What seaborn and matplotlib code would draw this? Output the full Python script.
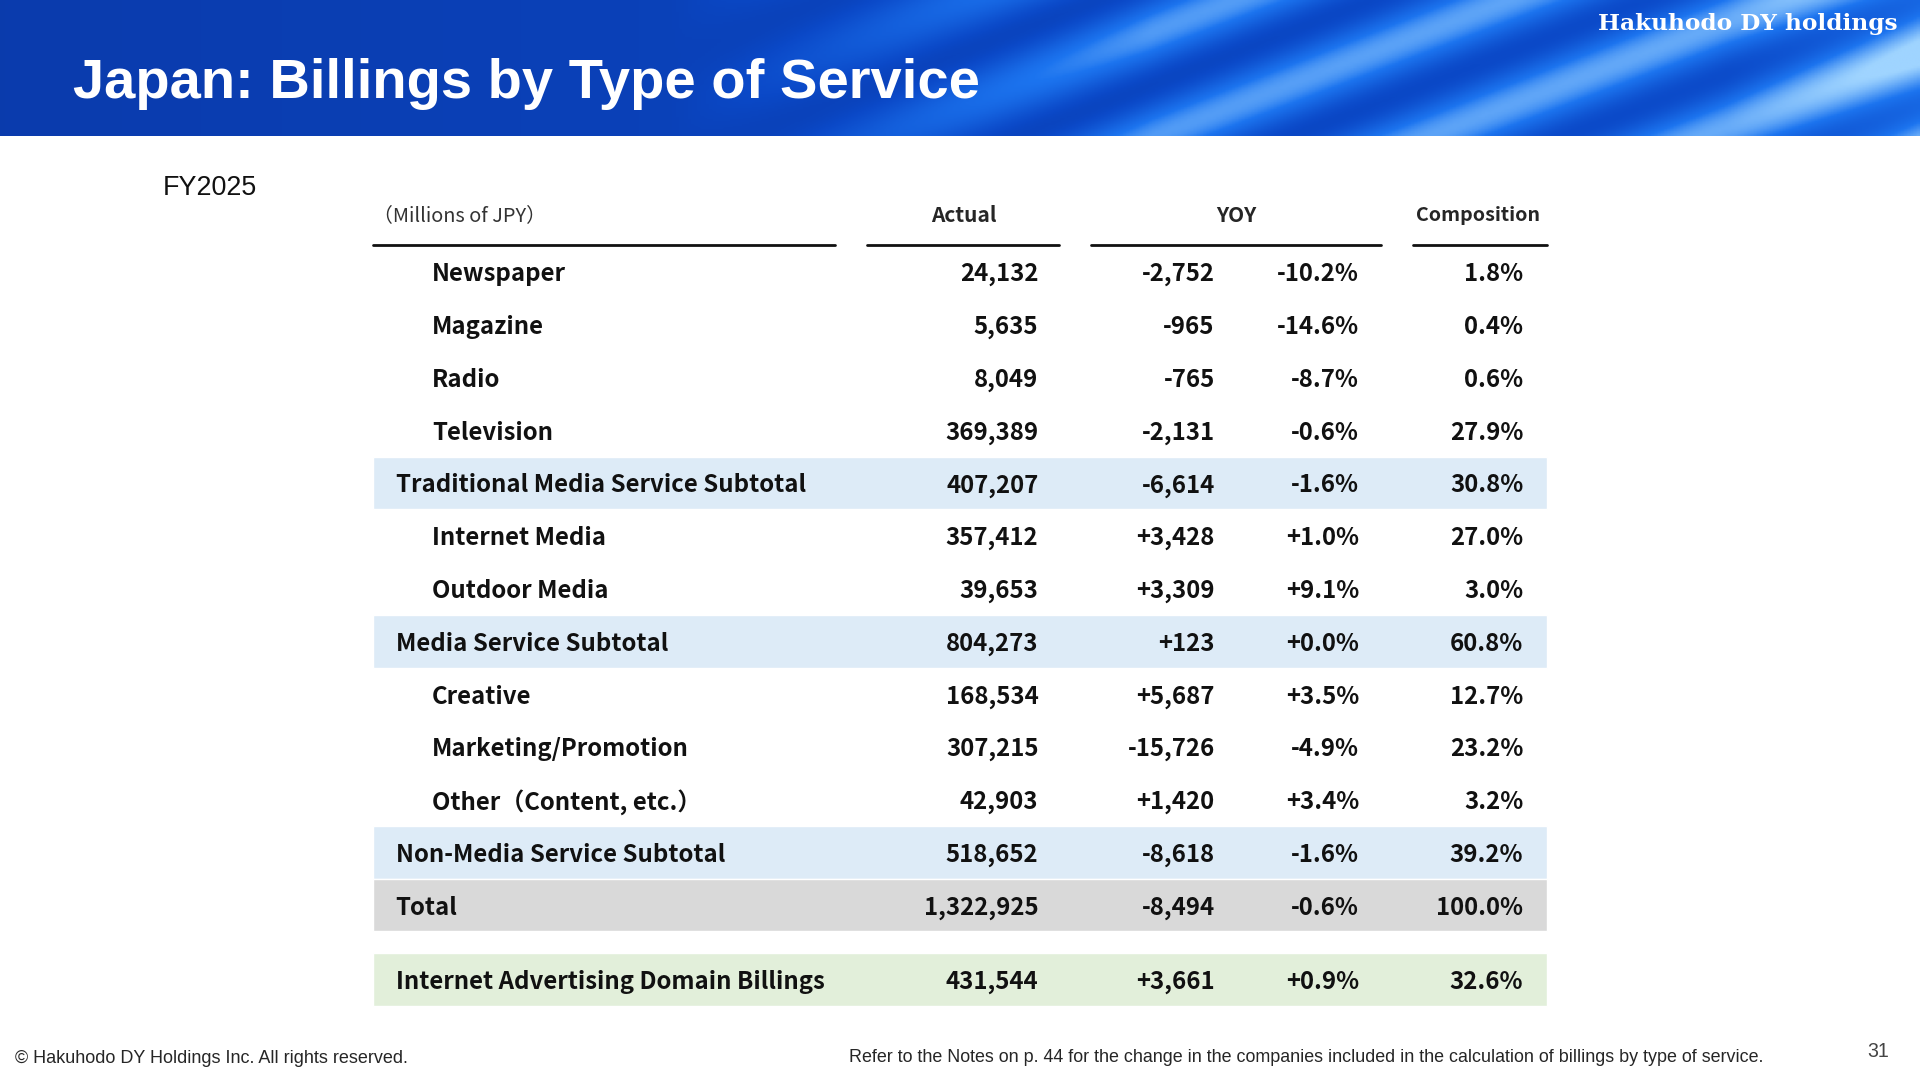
import numpy as np
import matplotlib
matplotlib.use("Agg")
import matplotlib.pyplot as plt
import seaborn as sns
from matplotlib.colors import LinearSegmentedColormap

sns.set_theme(style="white")
plt.rcParams['font.family'] = ['Noto Sans CJK JP', 'DejaVu Sans']

labels = ["Newspaper", "Magazine", "Radio", "Television",
          "Traditional Media Service Subtotal", "Internet Media", "Outdoor Media",
          "Media Service Subtotal", "Creative", "Marketing/Promotion",
          "Other（Content, etc.）", "Non-Media Service Subtotal", "Total",
          "Internet Advertising Domain Billings"]
kinds = ["item", "item", "item", "item", "sub", "item", "item", "sub",
         "item", "item", "item", "sub", "total", "ia"]
actual = ["24,132", "5,635", "8,049", "369,389", "407,207", "357,412", "39,653",
          "804,273", "168,534", "307,215", "42,903", "518,652", "1,322,925", "431,544"]
yoy_abs = ["-2,752", "-965", "-765", "-2,131", "-6,614", "+3,428", "+3,309",
           "+123", "+5,687", "-15,726", "+1,420", "-8,618", "-8,494", "+3,661"]
yoy_pct = ["-10.2%", "-14.6%", "-8.7%", "-0.6%", "-1.6%", "+1.0%", "+9.1%",
           "+0.0%", "+3.5%", "-4.9%", "+3.4%", "-1.6%", "-0.6%", "+0.9%"]
comp = ["1.8%", "0.4%", "0.6%", "27.9%", "30.8%", "27.0%", "3.0%", "60.8%",
        "12.7%", "23.2%", "3.2%", "39.2%", "100.0%", "32.6%"]

W, H = 1568, 882
fig = plt.figure(figsize=(19.2, 10.8), dpi=100)
ax = fig.add_axes([0, 0, 1, 1])
ax.set_xlim(0, W); ax.set_ylim(H, 0); ax.axis("off")
S = 1920 / W * 0.72  # ref px -> points

# banner gradient
xs = np.linspace(0, 1, 600)
ys = np.linspace(0, 1, 80)
X, Y = np.meshgrid(xs, ys)
w = np.clip((X - 0.35) / 0.25, 0, 1)
val = 0.35 + 0.15 * X + w * 0.4 * np.sin(X * 22 + Y * 4) ** 2 + 0.15 * (X > 0.9) * (X - 0.9) * 10
cm = LinearSegmentedColormap.from_list("b", ["#0a2a8a", "#0b49c8", "#1c74ef", "#9fd4ff"])
ax.imshow(val, cmap=cm, extent=[0, W, 111, 0], aspect="auto", zorder=0, vmin=0.2, vmax=1.0)
ax.text(60, 64, "Japan: Billings by Type of Service", color="white", fontsize=45.9 * S,
        fontweight="bold", family=["Liberation Sans"], va="center_baseline")
ax.text(1550, 20, "Hakuhodo DY holdings", color="white", fontsize=19 * S,
        family=["DejaVu Serif"], ha="right", va="center", fontweight="bold")

ax.text(133, 151, "FY2025", fontsize=22 * S, family=["Liberation Sans"], va="center_baseline", color="#111")

fs = 19.6 * S
ax.text(305, 174, "（Millions of JPY）", fontsize=fs * 0.83, va="center_baseline", color="#333", ha="left")
ax.text(787, 174, "Actual", fontsize=fs * 0.87, va="center_baseline", ha="center", fontweight="bold")
ax.text(1010, 174, "YOY", fontsize=fs * 0.87, va="center_baseline", ha="center", fontweight="bold")
ax.text(1207, 174, "Composition", fontsize=fs * 0.82, va="center_baseline", ha="center", fontweight="bold")
for a, b in [(305, 682), (708, 865), (891, 1128), (1154, 1263)]:
    ax.plot([a, b], [200, 200], color="#111", lw=2)

ycent = [222 + 43.1 * i for i in range(13)] + [800]
colors = {"sub": "#ddebf7", "total": "#d9d9d9", "ia": "#e2efda"}
for i, k in enumerate(kinds):
    y = ycent[i]
    if k in colors:
        ax.barh(y, 958, left=305, height=43, color=colors[k], zorder=1)
    x0 = 353 if k == "item" else 323
    ax.text(x0, y, labels[i], fontsize=fs, va="center_baseline", ha="left", fontweight="bold", zorder=2, color="#111")
    for xr, arr in [(848, actual), (992, yoy_abs), (1110, yoy_pct), (1244, comp)]:
        ax.text(xr, y, arr[i], fontsize=fs, va="center_baseline", ha="right", fontweight="bold", zorder=2, color="#111")

ax.text(12, 863, "© Hakuhodo DY Holdings Inc. All rights reserved.", fontsize=14.7 * S,
        family=["Liberation Sans"], va="center_baseline")
ax.text(1440, 862, "Refer to the Notes on p. 44 for the change in the companies included in the calculation of billings by type of service.",
        fontsize=14.6 * S, family=["Liberation Sans"], va="center_baseline", ha="right")
ax.text(1543, 857, "31", fontsize=16 * S, family=["Liberation Sans"], va="center_baseline", ha="right", color="#444")

fig.savefig("out.png", dpi=100)
